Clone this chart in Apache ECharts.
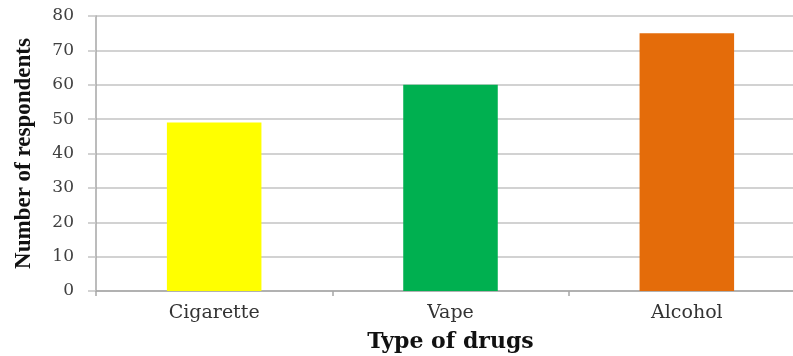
<!DOCTYPE html>
<html>
<head>
<meta charset="utf-8">
<script src="https://cdn.jsdelivr.net/npm/echarts@6/dist/echarts.min.js"></script>
<style>
  html, body { margin: 0; padding: 0; background: #ffffff; }
  #chart { width: 793px; height: 356px; }
</style>
</head>
<body>
<div id="chart"></div>
<script>
// Survey: respondents by type of drug used
const categories = ['Cigarette', 'Vape', 'Alcohol'];
const respondents = [49, 60, 75];
const barColors = ['#ffff00', '#00b050', '#e46c0a'];
const yTicks = { min: 0, max: 80, interval: 10 };

const chart = echarts.init(document.getElementById('chart'), null, { renderer: 'canvas' });

const gridColor = '#c3c3c3';

chart.setOption({
  animation: false,
  backgroundColor: '#ffffff',
  grid: { left: 96, right: -12, top: 16, bottom: 65, containLabel: false, outerBoundsMode: 'none' },
  xAxis: {
    type: 'category',
    data: categories,
    name: 'Type of drugs',
    nameLocation: 'middle',
    nameGap: 40,
    nameTextStyle: { fontFamily: 'DejaVu Serif', fontWeight: 'bold', fontSize: 22, color: '#111111' },
    axisLine: { lineStyle: { color: '#a6a6a6', width: 1.5 } },
    axisTick: { show: true, alignWithLabel: false, length: 5, lineStyle: { color: '#a6a6a6', width: 1.5 } },
    axisLabel: { fontFamily: 'DejaVu Serif', fontSize: 19, color: '#333333', margin: 13 }
  },
  yAxis: {
    type: 'value',
    min: yTicks.min,
    max: yTicks.max,
    interval: yTicks.interval,
    name: 'Number of respondents',
    nameLocation: 'middle',
    nameGap: 60,
    nameRotate: 90,
    nameTextStyle: { fontFamily: 'Liberation Serif', fontWeight: 'bold', fontSize: 23, color: '#111111' },
    axisLine: { show: true, lineStyle: { color: '#a6a6a6', width: 1.5 } },
    axisTick: { show: true, inside: false, length: 8, lineStyle: { color: gridColor, width: 1.5 } },
    axisLabel: { fontFamily: 'DejaVu Serif', fontSize: 17, color: '#404040', margin: 22 },
    splitLine: { show: true, lineStyle: { color: gridColor, width: 1.5 } }
  },
  series: [{
    type: 'bar',
    barWidth: '40%',
    data: respondents.map((v, i) => ({ value: v, itemStyle: { color: barColors[i] } }))
  }]
});
</script>
</body>
</html>
